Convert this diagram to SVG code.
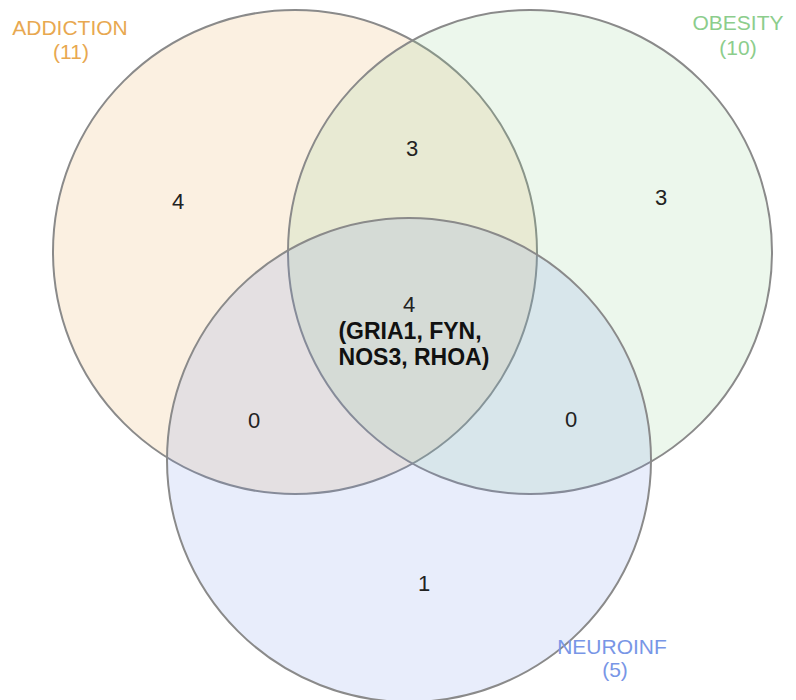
<svg xmlns="http://www.w3.org/2000/svg" width="796" height="700" viewBox="0 0 796 700">
<style>
.set{stroke:#8a8a8a;stroke-width:2;fill-opacity:0.17}
.num{font-family:"Liberation Sans",Arial,sans-serif;font-size:22px;fill:#222;text-anchor:middle}
.lab{font-family:"Liberation Sans",Arial,sans-serif;font-size:21px;text-anchor:middle}
.genes{font-family:"Liberation Sans",Arial,sans-serif;font-size:23px;font-weight:bold;fill:#111;text-anchor:middle}
</style>
<rect width="796" height="700" fill="#fff"/>
<g id="addiction"><circle class="set" cx="295" cy="252" r="242" fill="#e8a850"/></g>
<g id="obesity"><circle class="set" cx="530" cy="252" r="242" fill="#8ccd8c"/></g>
<g id="neuroinf"><circle class="set" cx="409" cy="460" r="242" fill="#7896e6"/></g>
<g id="connectors"></g>
<g id="labels">
<text class="lab" x="70" y="35" fill="#e8a850">ADDICTION</text>
<text class="lab" x="71" y="59" fill="#e8a850">(11)</text>
<text class="lab" x="738" y="30" fill="#8ccd8c">OBESITY</text>
<text class="lab" x="738" y="55" fill="#8ccd8c">(10)</text>
<text class="lab" x="612" y="654" fill="#7896e6">NEUROINF</text>
<text class="lab" x="615" y="677" fill="#7896e6">(5)</text>
</g>
<g id="counts">
<text class="num" x="178" y="209">4</text>
<text class="num" x="412" y="156">3</text>
<text class="num" x="661" y="205">3</text>
<text class="num" x="254" y="428">0</text>
<text class="num" x="571" y="427">0</text>
<text class="num" x="424" y="591">1</text>
<text class="num" x="409" y="312">4</text>
<text class="genes" x="410" y="339">(GRIA1, FYN,</text>
<text class="genes" x="414" y="365">NOS3, RHOA)</text>
</g>
</svg>
